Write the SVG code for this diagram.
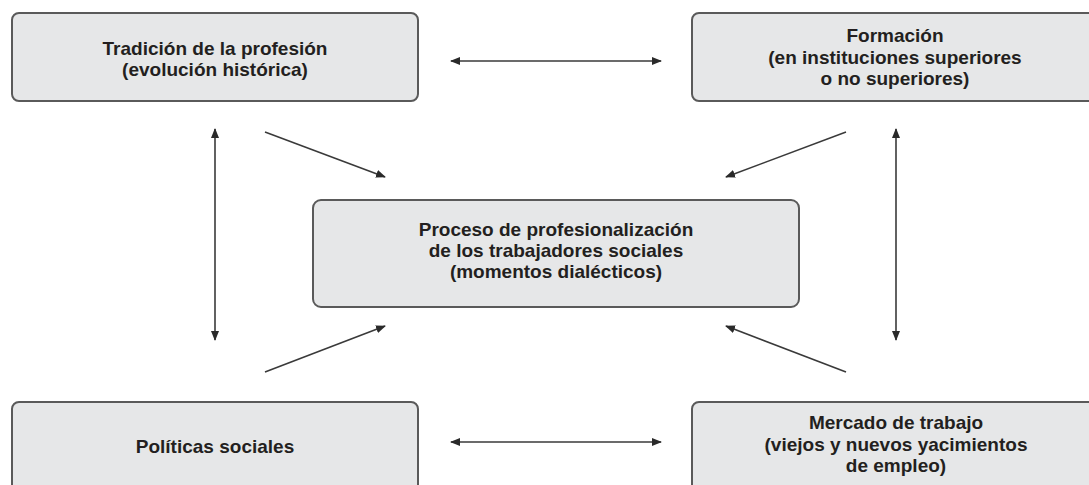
<svg xmlns="http://www.w3.org/2000/svg" width="1089" height="485" viewBox="0 0 1089 485">
  <style>
    .box { fill: #e6e7e8; stroke: #5a5a5a; stroke-width: 2; }
    .lbl { font-family: "Liberation Sans", Arial, sans-serif; font-weight: bold; font-size: 19px; fill: #231f20; text-anchor: middle; }
    .conn { stroke: #3a3a3a; stroke-width: 1.6; fill: none; }
  </style>
  <defs>
    <marker id="ah" viewBox="0 0 10 8" refX="9" refY="4" markerWidth="10" markerHeight="8" markerUnits="userSpaceOnUse" orient="auto-start-reverse">
      <path d="M0,0 L10,4 L0,8 Z" fill="#2a2a2a"/>
    </marker>
  </defs>
  <rect width="1089" height="485" fill="#ffffff"/>

  <g id="node-tradicion">
    <rect class="box" x="12" y="13" width="406" height="88" rx="7"/>
    <text class="lbl" x="215" y="55">Tradición de la profesión</text>
    <text class="lbl" x="215" y="76">(evolución histórica)</text>
  </g>

  <g id="node-formacion">
    <rect class="box" x="692" y="13" width="406" height="88" rx="7"/>
    <text class="lbl" x="895" y="42">Formación</text>
    <text class="lbl" x="895" y="64">(en instituciones superiores</text>
    <text class="lbl" x="895" y="85">o no superiores)</text>
  </g>

  <g id="node-proceso">
    <rect class="box" x="313" y="200" width="486" height="107" rx="8"/>
    <text class="lbl" x="556" y="236">Proceso de profesionalización</text>
    <text class="lbl" x="556" y="257">de los trabajadores sociales</text>
    <text class="lbl" x="556" y="278">(momentos dialécticos)</text>
  </g>

  <g id="node-politicas">
    <rect class="box" x="12" y="402" width="406" height="90" rx="7"/>
    <text class="lbl" x="215" y="453">Políticas sociales</text>
  </g>

  <g id="node-mercado">
    <rect class="box" x="692" y="402" width="406" height="90" rx="7"/>
    <text class="lbl" x="896" y="429">Mercado de trabajo</text>
    <text class="lbl" x="896" y="451">(viejos y nuevos yacimientos</text>
    <text class="lbl" x="896" y="472">de empleo)</text>
  </g>

  <g id="connectors">
    <line class="conn" x1="451" y1="61" x2="661" y2="61" marker-start="url(#ah)" marker-end="url(#ah)"/>
    <line class="conn" x1="451" y1="442" x2="661" y2="442" marker-start="url(#ah)" marker-end="url(#ah)"/>
    <line class="conn" x1="215" y1="129" x2="215" y2="340" marker-start="url(#ah)" marker-end="url(#ah)"/>
    <line class="conn" x1="896" y1="129" x2="896" y2="340" marker-start="url(#ah)" marker-end="url(#ah)"/>
    <line class="conn" x1="265" y1="132" x2="385" y2="177" marker-end="url(#ah)"/>
    <line class="conn" x1="846" y1="132" x2="726" y2="177" marker-end="url(#ah)"/>
    <line class="conn" x1="265" y1="372" x2="385" y2="326" marker-end="url(#ah)"/>
    <line class="conn" x1="846" y1="372" x2="726" y2="326" marker-end="url(#ah)"/>
  </g>
</svg>
